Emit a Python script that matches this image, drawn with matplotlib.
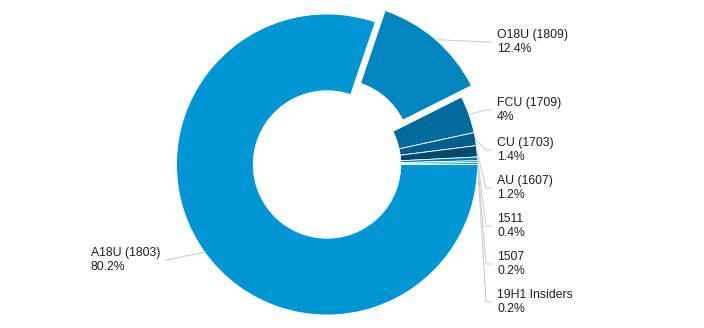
import matplotlib.pyplot as plt
import numpy as np

# release share
names = ["A18U (1803)", "O18U (1809)", "FCU (1709)", "CU (1703)", "AU (1607)",
         "1511", "1507", "19H1 Insiders"]
shares = [80.2, 12.4, 4.0, 1.4, 1.2, 0.4, 0.2, 0.2]
pct_text = ["80.2%", "12.4%", "4%", "1.4%", "1.2%", "0.4%", "0.2%", "0.2%"]
colors = ["#0095d5", "#0085bf", "#006b9c", "#005f8c", "#004a70",
          "#0079ad", "#0086bf", "#0092cf"]
pull = [0, 0.1, 0, 0, 0, 0, 0, 0]

# label centre heights (pixels from top)
label_y = [260, 42, 110, 150, 188, 226, 264, 302]

W, H = 704, 328
fig = plt.figure(figsize=(W / 100, H / 100), dpi=100)
ax = fig.add_axes([0, 0, 1, 1])

cx, cy, R = 327, H - 164.5, 150.5
# pie's explode is in data units, so scale by radius
wedges, _ = ax.pie(shares, colors=colors, explode=[p * R for p in pull],
                   startangle=0, counterclock=False, center=(cx, cy), radius=R,
                   wedgeprops=dict(width=R * 0.51, edgecolor="white", linewidth=0.6),
                   frame=True)
ax.set_xlim(0, W)
ax.set_ylim(0, H)
ax.set_aspect("equal")
ax.axis("off")

line_col = "#c6cfd7"
txt_col = "#1e1e1e"
for i, w in enumerate(wedges):
    mid = np.deg2rad((w.theta1 + w.theta2) / 2)
    wx, wy = w.center
    ax0 = wx + R * np.cos(mid)
    ay0 = wy + R * np.sin(mid)
    ty = H - label_y[i]
    label = names[i] + "\n" + pct_text[i]
    if np.cos(mid) >= 0:
        ax.plot([ax0, 486, 492], [ay0, ty, ty], color=line_col, lw=0.8,
                solid_capstyle="butt")
        ax.text(497, ty, label, ha="left", va="center", fontsize=8.85,
                family="Liberation Sans", color=txt_col, linespacing=1.22)
    else:
        ax.plot([ax0, 166], [ay0, ty], color=line_col, lw=0.8)
        ax.text(160, ty, label, ha="right", va="center", multialignment="left",
                fontsize=8.85, family="Liberation Sans", color=txt_col,
                linespacing=1.22)

fig.savefig("out.png", dpi=100, facecolor="white")
